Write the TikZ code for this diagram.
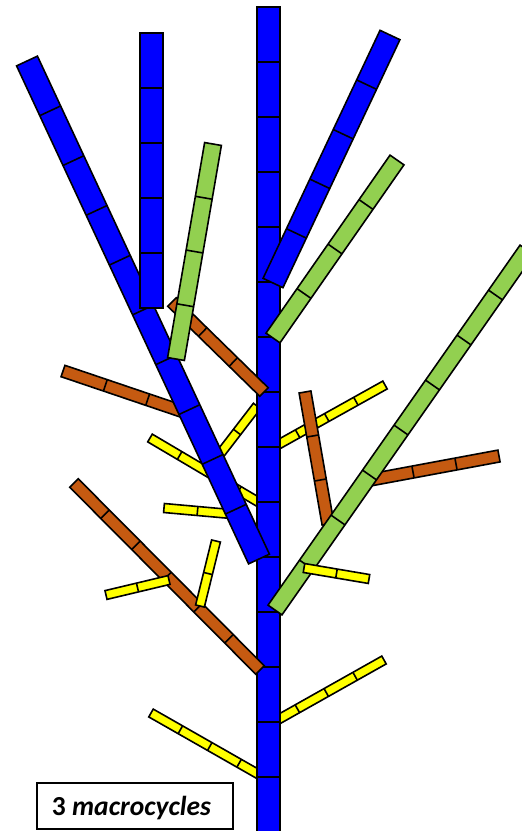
\documentclass[tikz,border=0pt]{standalone}
\usepackage{fontspec}
\setmainfont{Carlito}
\usetikzlibrary{calc}
\definecolor{bblue}{RGB}{0,0,255}
\definecolor{lgreen}{RGB}{146,208,80}
\definecolor{rbrown}{RGB}{197,90,17}
\definecolor{yyellow}{RGB}{255,255,0}
\tikzset{outline/.style={draw=black, line width=1.6pt, line join=miter}}
% #1 name, #2 base, #3 tip, #4 segments, #5 half width, #6 colour
\newcommand{\segbar}[6]{%
  \coordinate (#1-b) at #2;
  \coordinate (#1-t) at #3;
  \filldraw[fill=#6, outline]
    ($(#1-b)!#5!90:(#1-t)$) -- ($(#1-t)!#5!-90:(#1-b)$) --
    ($(#1-t)!#5!90:(#1-b)$) -- ($(#1-b)!#5!-90:(#1-t)$) -- cycle;
  \pgfmathtruncatemacro\segnm{#4-1}%
  \foreach \k in {1,...,\segnm} {%
    \pgfmathsetmacro\segt{\k/#4}%
    \coordinate (#1-m) at ($(#1-b)!\segt!(#1-t)$);
    \draw[outline] ($(#1-m)!#5!90:(#1-t)$) -- ($(#1-m)!#5!-90:(#1-t)$);
  }%
}
\begin{document}
\begin{tikzpicture}[x=1pt,y=-1pt]
\clip (0,0) rectangle (522,831);
\fill[white] (0,0) rectangle (522,831);
% yellow laterals under the stem / under the blue diagonal
\segbar{yA}{(268.5,450)}{(385,385)}{4}{4.5pt}{yyellow}
\segbar{yC}{(268.5,508)}{(150,438)}{4}{4.5pt}{yyellow}
\segbar{yH}{(268.5,725)}{(384,660)}{4}{4.5pt}{yyellow}
\segbar{yI}{(268.5,780)}{(151,713)}{4}{4.5pt}{yyellow}
\segbar{yB}{(217,458)}{(257,406)}{2}{4.5pt}{yyellow}
\segbar{yD}{(231,514)}{(164,508)}{2}{4.5pt}{yyellow}
% brown under the blue diagonal
\segbar{bL}{(190,414)}{(63,371)}{3}{6pt}{rbrown}
% main stem
\segbar{stem}{(268.5,832)}{(268.5,7)}{15}{11.5pt}{bblue}
% brown from the stem
\segbar{bU}{(264,392)}{(172,302)}{3}{6pt}{rbrown}
\segbar{bD}{(260,670)}{(74,483)}{6}{6pt}{rbrown}
% blue branches
\segbar{diag}{(259,559)}{(27,61)}{10}{11.5pt}{bblue}
\segbar{vert}{(151.5,308)}{(151.5,33)}{5}{11.5pt}{bblue}
\segbar{bright}{(273,283)}{(390,35)}{5}{11pt}{bblue}
% green branches
\segbar{gUL}{(176,359)}{(213,144)}{4}{8.5pt}{lgreen}
\segbar{gUR}{(273,338)}{(397,160)}{4}{8.5pt}{lgreen}
% brown under the big green
\segbar{bV}{(328,524)}{(305,392)}{3}{6pt}{rbrown}
\segbar{bR}{(370,480)}{(499,456)}{3}{6pt}{rbrown}
% big green
\segbar{gBig}{(275,610)}{(527,250)}{8}{8.5pt}{lgreen}
% yellow on top
\segbar{yE}{(169,580)}{(106,595)}{2}{4.5pt}{yyellow}
\segbar{yF}{(200,606)}{(216,541)}{2}{4.5pt}{yyellow}
\segbar{yG}{(304,568)}{(369,579)}{2}{4.5pt}{yyellow}
% label
\draw[fill=white, line width=1.8pt] (37,783) rectangle (233,829);
\node[anchor=base, inner sep=0pt, font=\bfseries\fontsize{27.5}{30}\selectfont] (lbl) at (131.5,815) {3 \textit{macrocycles}};
\end{tikzpicture}
\end{document}
